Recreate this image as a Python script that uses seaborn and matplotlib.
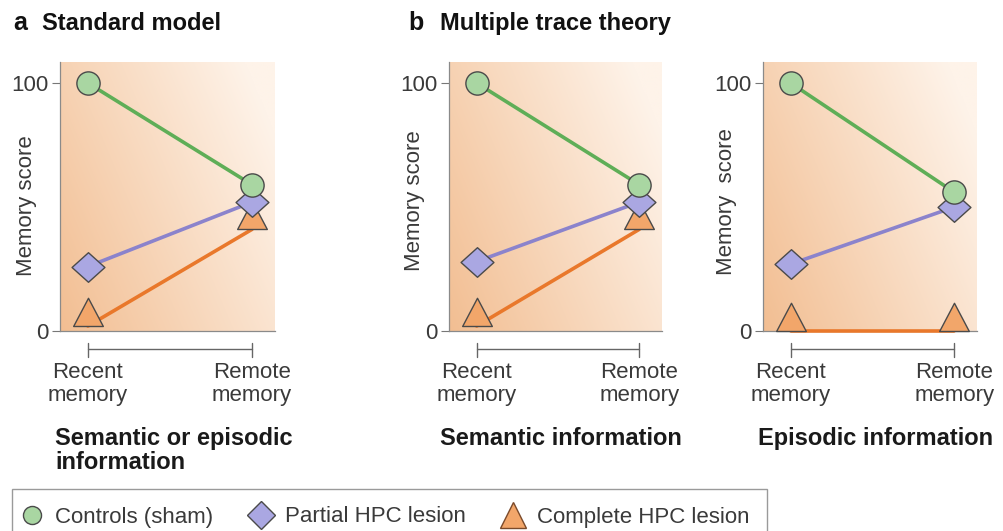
import numpy as np
import pandas as pd
import matplotlib
matplotlib.use("Agg")
import matplotlib.pyplot as plt
from matplotlib.path import Path
from matplotlib.lines import Line2D
from matplotlib.patches import Rectangle
import matplotlib.transforms as mtransforms
import seaborn as sns

# ---------------- data ----------------
times = ["Recent\nmemory", "Remote\nmemory"]
groups = ["Controls (sham)", "Partial HPC lesion", "Complete HPC lesion"]

standard_controls = [100, 59]
standard_partial = [26, 52]
standard_complete = [2, 41]

semantic_controls = [100, 59]
semantic_partial = [28, 52]
semantic_complete = [2, 41]

episodic_controls = [100, 56]
episodic_partial = [27, 50]
episodic_complete = [0, 0]

subtitles = ["Semantic or episodic\ninformation", "Semantic information", "Episodic information"]
ylabels = ["Memory score", "Memory score", "Memory  score"]
yticks = [0, 100]

# ---------------- style ----------------
sns.set_style("white")
plt.rcParams["font.family"] = ["Liberation Sans", "DejaVu Sans"]

line_colors = {"Controls (sham)": "#5fae57", "Partial HPC lesion": "#8b83cc", "Complete HPC lesion": "#e9782b"}
face_colors = {"Controls (sham)": "#a9d6a2", "Partial HPC lesion": "#aaa7e2", "Complete HPC lesion": "#f2a66a"}
edge_col = "#4a4a4a"
text_col = "#3a3a3a"

tri_path = Path([(-1, 0), (1, 0), (0, 1.9), (-1, 0)],
                [Path.MOVETO, Path.LINETO, Path.LINETO, Path.CLOSEPOLY])
dia_path = Path([(-1, 0), (0, 0.9), (1, 0), (0, -0.9), (-1, 0)],
                [Path.MOVETO, Path.LINETO, Path.LINETO, Path.LINETO, Path.CLOSEPOLY])
markers = {"Controls (sham)": "o", "Partial HPC lesion": dia_path, "Complete HPC lesion": tri_path}
sizes = {"Controls (sham)": 280, "Partial HPC lesion": 560, "Complete HPC lesion": 1650}
zorders = {"Controls (sham)": 7, "Partial HPC lesion": 6, "Complete HPC lesion": 5}

W, H = 1004, 531
fig = plt.figure(figsize=(W / 100, H / 100), dpi=100)

panels = [
    (60, 215, [standard_controls, standard_partial, standard_complete]),
    (449, 213, [semantic_controls, semantic_partial, semantic_complete]),
    (763, 214, [episodic_controls, episodic_partial, episodic_complete]),
]
ylabel_coords = [(-0.107, 0.465), (-0.113, 0.485), (-0.121, 0.48)]
sub_x = [55, 440, 758]

# background gradient
u = np.linspace(0, 1, 200)
v = np.linspace(0, 1, 200)
U, V = np.meshgrid(u, v)
t = np.clip(0.72 * U + 0.38 * V, 0, 1)[::-1]
c0 = np.array([242, 190, 146]) / 255
c1 = np.array([254, 243, 233]) / 255
grad = c0[None, None, :] * (1 - t[..., None]) + c1[None, None, :] * t[..., None]

XL = (-0.17, 1.14)
YL = (0, 108.5)
top_px, bot_px = 62, 331

for i, (left_px, w_px, series) in enumerate(panels):
    ax = fig.add_axes([left_px / W, (H - bot_px) / H, w_px / W, (bot_px - top_px) / H])
    ax.imshow(grad, extent=[XL[0], XL[1], YL[0], YL[1]], aspect="auto", zorder=0, interpolation="bilinear")

    df = pd.DataFrame({
        "time": [0, 1] * 3,
        "score": [s for ser in series for s in ser],
        "group": [g for g in groups for _ in range(2)],
    })
    sns.lineplot(data=df, x="time", y="score", hue="group", palette=line_colors,
                 hue_order=groups, legend=False, lw=2.6, ax=ax, zorder=3, clip_on=False)
    for g in groups[::-1]:
        sub = df[df["group"] == g]
        sns.scatterplot(data=sub, x="time", y="score", color=face_colors[g], marker=markers[g],
                        s=sizes[g], edgecolor=edge_col, linewidth=1.0, ax=ax,
                        zorder=zorders[g], clip_on=False, legend=False)

    ax.set_xlim(*XL)
    ax.set_ylim(*YL)
    ax.set_xticks([])
    ax.set_yticks(yticks)
    ax.set_yticklabels([str(y) for y in yticks], fontsize=16, color=text_col)
    ax.tick_params(axis="y", length=6, width=0.8, color="#777777", pad=2, left=True)
    for sp in ["top", "right"]:
        ax.spines[sp].set_visible(False)
    for sp in ["left", "bottom"]:
        ax.spines[sp].set_color("#8a8a8a")
        ax.spines[sp].set_linewidth(0.9)
        ax.spines[sp].set_zorder(2)
    ax.set_xlabel("")
    ax.set_ylabel(ylabels[i], fontsize=16, color=text_col)
    ax.yaxis.set_label_coords(*ylabel_coords[i])

    # bracket under the axis
    trans = mtransforms.blended_transform_factory(ax.transData, ax.transAxes)
    ph = bot_px - top_px
    yb = -(349 - bot_px) / ph
    y0 = -(343 - bot_px) / ph
    y1 = -(357 - bot_px) / ph
    ax.plot([0, 1], [yb, yb], transform=trans, color="#666666", lw=1.0, clip_on=False)
    for xx in [0, 1]:
        ax.plot([xx, xx], [y0, y1], transform=trans, color="#666666", lw=1.0, clip_on=False)
        ax.text(xx, -(362 - bot_px) / ph, times[xx], transform=trans, ha="center", va="top",
                fontsize=16, color=text_col, linespacing=1.1)

    fig.text(sub_x[i] / W, 1 - 427 / H, subtitles[i], ha="left", va="top", fontsize=17,
             fontweight="bold", color="#1a1a1a", linespacing=1.05)

# panel titles
fig.text(13 / W, 1 - 30 / H, "a", fontsize=18, fontweight="bold", color="#111111", va="baseline")
fig.text(42 / W, 1 - 30 / H, "Standard model", fontsize=17, fontweight="bold", color="#111111", va="baseline")
fig.text(408 / W, 1 - 30 / H, "b", fontsize=18, fontweight="bold", color="#111111", va="baseline")
fig.text(440 / W, 1 - 30 / H, "Multiple trace theory", fontsize=17, fontweight="bold", color="#111111", va="baseline")

# legend
fig.patches.append(Rectangle((12 / W, 0 - 0.05), (767 - 12) / W, (531 - 489) / H + 0.05,
                             transform=fig.transFigure, fill=False, edgecolor="#9a9a9a", lw=1.0))
handles = [
    Line2D([], [], ls="none", marker="o", ms=13, mfc=face_colors[groups[0]], mec=edge_col, mew=1.0),
    Line2D([], [], ls="none", marker="D", ms=14, mfc=face_colors[groups[1]], mec=edge_col, mew=1.0),
    Line2D([], [], ls="none", marker="^", ms=19, mfc=face_colors[groups[2]], mec="#7a4a2a", mew=1.0),
]
leg = fig.legend(handles, groups, loc="center left", bbox_to_anchor=(12 / W, 1 - 517 / H),
                 ncol=3, frameon=False, fontsize=16, handlelength=1.0, handletextpad=0.55,
                 columnspacing=1.65, borderpad=0.4, borderaxespad=0)
for txt in leg.get_texts():
    txt.set_color(text_col)

fig.savefig("out.png", dpi=100)
